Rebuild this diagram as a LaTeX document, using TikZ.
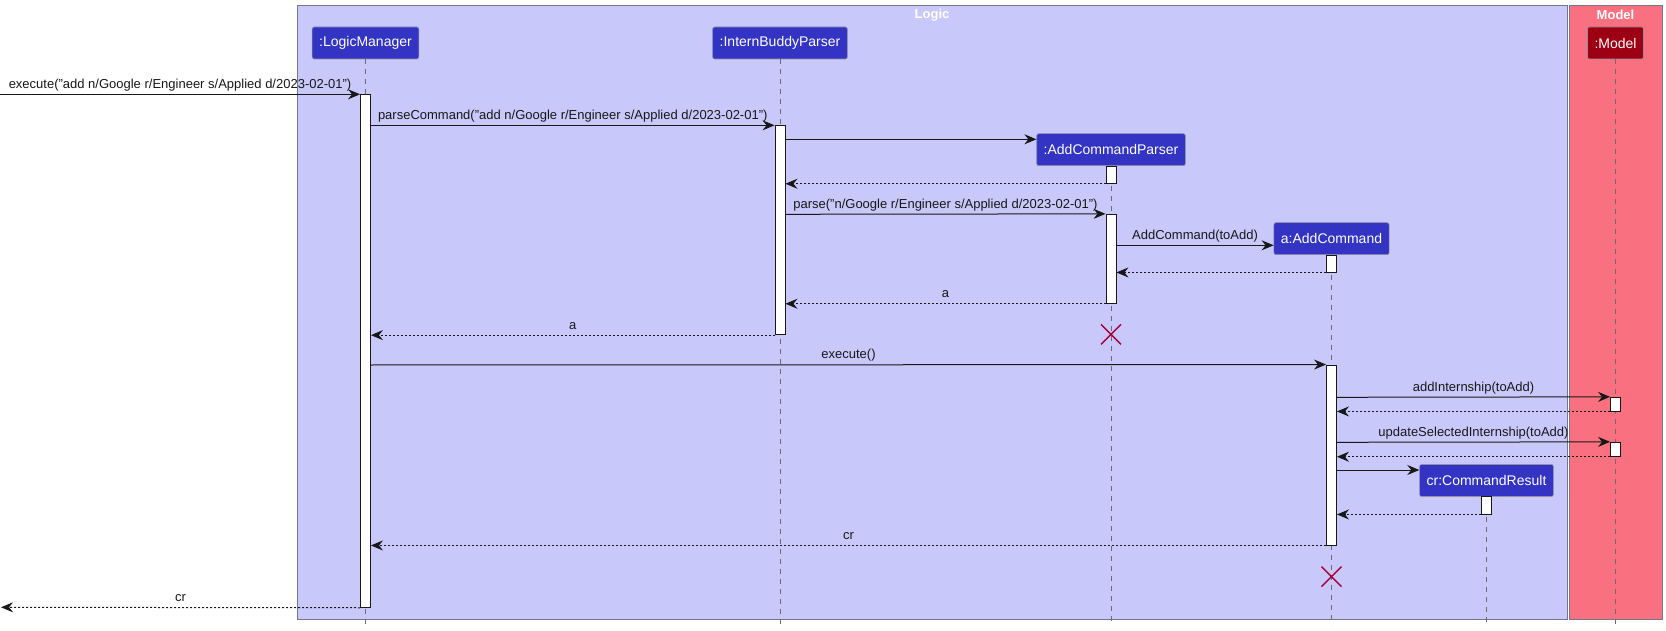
\documentclass[tikz,border=0pt]{standalone}
\usepackage{fontspec}
\setmainfont{Liberation Sans}
\usetikzlibrary{arrows.meta}
\definecolor{logicT}{HTML}{C8C8FA}
\definecolor{logicC}{HTML}{3333C4}
\definecolor{modelT}{HTML}{F97181}
\definecolor{modelC}{HTML}{9D0012}
\definecolor{destroyC}{HTML}{A80036}
\definecolor{lineC}{HTML}{181818}
\definecolor{boxB}{HTML}{75758A}
\begin{document}
\begin{tikzpicture}[x=1pt,y=-1pt,
  grp/.style={draw=boxB, line width=1pt},
  grptitle/.style={text=white, font=\fontsize{13}{15}\selectfont\bfseries, inner sep=0pt},
  part/.style={draw=boxB!80!white, line width=0.6pt, rounded corners=2pt, text=white, minimum height=32pt, inner xsep=7pt, font=\fontsize{14}{16}\selectfont},
  lparts/.style={part, fill=logicC},
  mparts/.style={part, fill=modelC},
  life/.style={draw=gray!85!black, line width=0.8pt, dash pattern=on 5pt off 5pt},
  act/.style={draw=lineC, fill=white, line width=0.9pt, minimum width=10pt, inner sep=0pt},
  msg/.style={draw=lineC, line width=1pt, -{Stealth[length=12pt,width=10pt,inset=4pt]}},
  ret/.style={msg, dash pattern=on 2pt off 2pt},
  lbl/.style={anchor=base, yshift=6pt, inner sep=0pt, text=lineC, font=\fontsize{13}{15}\selectfont},
  destroy/.style={draw=destroyC, line width=1.4pt}
]
\useasboundingbox (0,0) rectangle (1666,631);

% group boxes
\fill[logicT] (297,6) rectangle (1567.5,619);
\draw[grp] (297,6) rectangle (1567.5,619);
\fill[modelT] (1569.5,6) rectangle (1662,619);
\draw[grp] (1569.5,6) rectangle (1662,619);
\node[grptitle] (logicTitle) at (932,15) {Logic};
\node[grptitle] (modelTitle) at (1615.5,15) {Model};

% participants
\node[lparts] (lm) at (365.5,43) {:LogicManager};
\node[lparts] (ibp) at (780,43) {:InternBuddyParser};
\node[lparts] (acp) at (1111,149.7) {:AddCommandParser};
\node[lparts] (ac) at (1331.5,238.7) {a:AddCommand};
\node[lparts] (cr) at (1486.5,480.5) {cr:CommandResult};
\node[mparts] (model) at (1615.5,43) {:Model};

% lifelines
\coordinate (lmEnd) at (365.5,625);
\coordinate (ibpEnd) at (780,625);
\coordinate (acpEnd) at (1111,625);
\coordinate (acEnd) at (1331.5,625);
\coordinate (crEnd) at (1486.5,625);
\coordinate (modelEnd) at (1615.5,625);
\draw[life] (lm.south) -- (lmEnd);
\draw[life] (ibp.south) -- (ibpEnd);
\draw[life] (acp.south) -- (acpEnd);
\draw[life] (ac.south) -- (acEnd);
\draw[life] (cr.south) -- (crEnd);
\draw[life] (model.south) -- (modelEnd);

% activation bars
\node[act, minimum height=513pt] (lmA) at (365.5,350.8) {};
\node[act, minimum height=209.4pt] (ibpA) at (780,230) {};
\node[act, minimum height=17.3pt] (acpA1) at (1111,174.65) {};
\node[act, minimum height=89pt] (acpA2) at (1111,258.8) {};
\node[act, minimum height=17pt] (acA1) at (1331.5,263.5) {};
\node[act, minimum height=180pt] (acA2) at (1331.5,455) {};
\node[act, minimum height=13.7pt] (mA1) at (1615.5,404.15) {};
\node[act, minimum height=14pt] (mA2) at (1615.5,449.3) {};
\node[act, minimum height=17.3pt] (crA) at (1486.5,505.35) {};

% messages
\coordinate (start) at (0,94.3);
\draw[msg] (start) -- node[lbl] {execute("add n/Google r/Engineer s/Applied d/2023-02-01")} (lmA.west |- 0,94.3);
\draw[msg] (lmA.east |- 0,125.3) -- node[lbl] {parseCommand("add n/Google r/Engineer s/Applied d/2023-02-01")} (ibpA.west |- 0,125.3);
\draw[msg] (ibpA.east |- 0,139.3) -- (acp.west |- 0,139.3);
\draw[ret] (acpA1.south west) -- (ibpA.east |- acpA1.south west);
\draw[msg] (ibpA.east |- 0,214.3) -- node[lbl] {parse("n/Google r/Engineer s/Applied d/2023-02-01")} (acpA2.north west);
\draw[msg] (acpA2.east |- 0,245.3) -- node[lbl] {AddCommand(toAdd)} (ac.west |- 0,245.3);
\draw[ret] (acA1.south west) -- (acpA2.east |- acA1.south west);
\draw[ret] (acpA2.south west) -- node[lbl] {a} (ibpA.east |- acpA2.south west);
\draw[ret] (ibpA.south west) -- node[lbl] {a} (lmA.east |- ibpA.south west);
\draw[msg] (lmA.east |- 0,365) -- node[lbl] {execute()} (acA2.north west);
\draw[msg] (acA2.east |- 0,397.3) -- node[lbl] {addInternship(toAdd)} (mA1.north west);
\draw[ret] (mA1.south west) -- (acA2.east |- mA1.south west);
\draw[msg] (acA2.east |- 0,442.3) -- node[lbl] {updateSelectedInternship(toAdd)} (mA2.north west);
\draw[ret] (mA2.south west) -- (acA2.east |- mA2.south west);
\draw[msg] (acA2.east |- 0,470) -- (cr.west |- 0,470);
\draw[ret] (crA.south west) -- (acA2.east |- crA.south west);
\draw[ret] (acA2.south west) -- node[lbl] {cr} (lmA.east |- acA2.south west);
\coordinate (finish) at (1,607.3);
\draw[ret] (lmA.south west) -- node[lbl] {cr} (finish);

% destroy marks
\coordinate (x1) at (1111,334.3);
\coordinate (x2) at (1331.5,576.7);
\draw[destroy] (x1) ++(-10,-10) -- ++(20,20) ++(0,-20) -- ++(-20,20);
\draw[destroy] (x2) ++(-10,-10) -- ++(20,20) ++(0,-20) -- ++(-20,20);
\end{tikzpicture}
\end{document}
